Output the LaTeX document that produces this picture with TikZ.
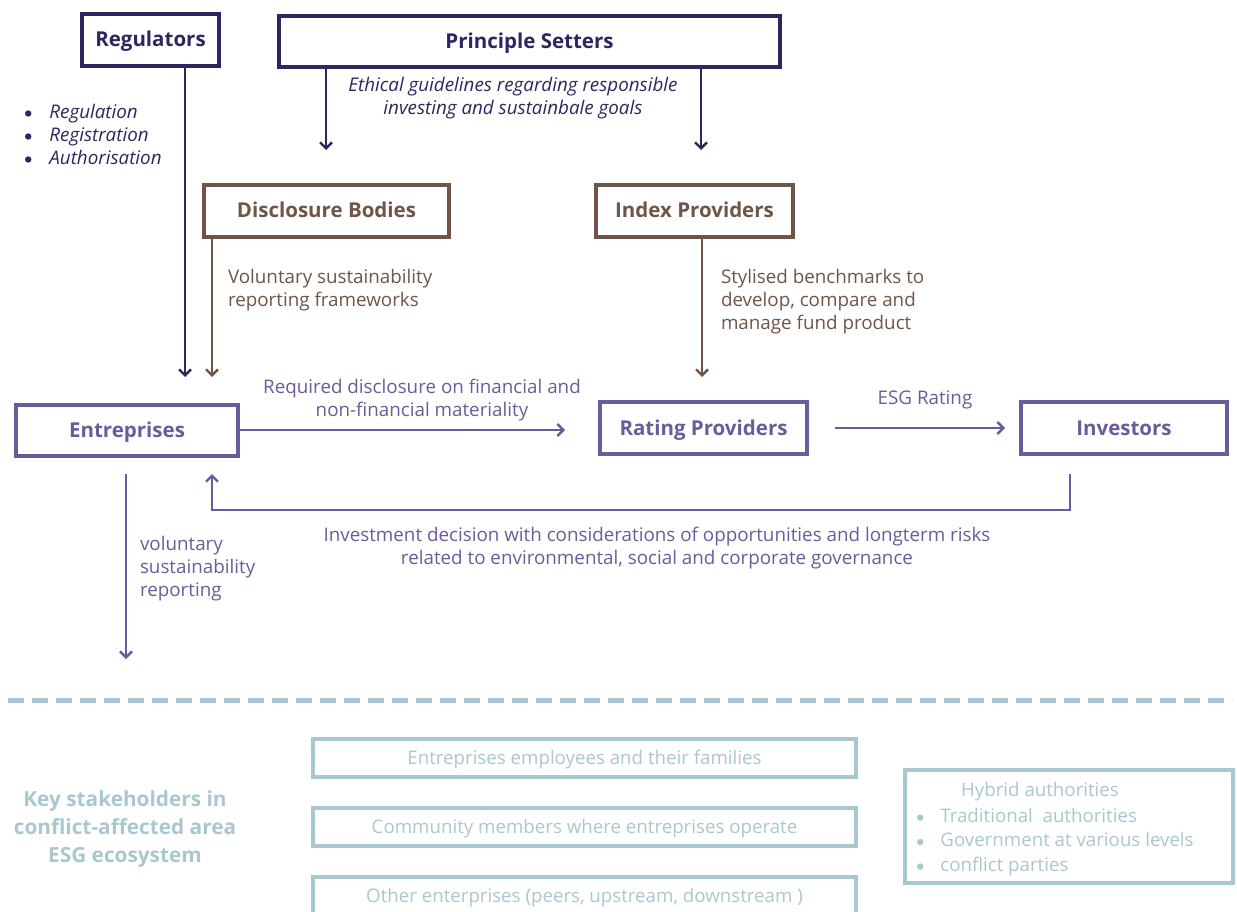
\documentclass[tikz,border=0pt]{standalone}
\usepackage{fontspec}
\setmainfont{Open Sans}
\usetikzlibrary{arrows.meta}
\definecolor{navy}{HTML}{2B2760}
\definecolor{umber}{HTML}{6E5547}
\definecolor{lilac}{HTML}{6A5B9C}
\definecolor{mist}{HTML}{A9C7D1}
\newcommand{\dotmark}{\tikz[baseline=-4.6pt]\fill (0,0) circle (3.2pt);}
\begin{document}
\begin{tikzpicture}[x=1pt,y=-1pt,
  every node/.style={inner sep=0pt, outer sep=0pt},
  lbl/.style={font=\fontsize{18.8}{23}\selectfont, align=left},
  head/.style={draw, line width=4pt, text height=14pt, text depth=0pt,
    font=\fontsize{20.5}{24}\selectfont\bfseries},
  soft/.style={draw=mist, line width=4pt, text=mist, text height=13pt, text depth=0pt,
    font=\fontsize{18.7}{22}\selectfont},
  link/.style={line width=2.4pt, -{Straight Barb[length=6pt,width=12pt,line width=2.4pt]}}]
\useasboundingbox (0,0) rectangle (1237,912);

% ---------- top level actors ----------
\node[head, navy, minimum width=137pt, minimum height=52pt] (reg) at (150.5,40) {Regulators};
\node[head, navy, minimum width=501pt, minimum height=51pt] (prin) at (529.5,41.5) {Principle Setters};

\node[lbl, navy, anchor=north west] (regtxt) at (25,102) {%
  \begin{tabular}{@{}l@{\hspace{18pt}}l@{}}
  \dotmark & \textit{Regulation}\\
  \dotmark & \textit{Registration}\\
  \dotmark & \textit{Authorisation}
  \end{tabular}};

\node[lbl, navy, align=center] (ethic) at (513,98) {\textit{Ethical guidelines regarding responsible}\\\textit{investing and sustainbale goals}};

\coordinate (prinL) at (326,150);
\coordinate (prinR) at (701,150);
\draw[link, navy] (prin.south -| prinL) -- (prinL);
\draw[link, navy] (prin.south -| prinR) -- (prinR);

% ---------- frameworks and benchmarks ----------
\node[head, umber, minimum width=245pt, minimum height=52pt] (disc) at (326.5,211) {Disclosure Bodies};
\node[head, umber, minimum width=197pt, minimum height=52pt] (idx) at (694.5,211) {Index Providers};

\node[lbl, umber, anchor=north west] (disctxt) at (228,269) {Voluntary sustainability\\reporting frameworks};
\node[lbl, umber, anchor=north west] (idxtxt) at (721,269) {Stylised benchmarks to\\develop, compare and\\manage fund product};

% ---------- market actors ----------
\node[head, lilac, minimum width=222pt, minimum height=51pt] (ent) at (127,430.5) {Entreprises};
\node[head, lilac, minimum width=207pt, minimum height=52pt] (rat) at (703.5,428) {Rating Providers};
\node[head, lilac, minimum width=206pt, minimum height=52pt] (inv) at (1124,428) {Investors};

\coordinate (regEnd) at (185,377);
\coordinate (discEnd) at (212,377);
\coordinate (idxEnd) at (702,377);
\draw[link, navy] (reg.south -| regEnd) -- (regEnd);
\draw[link, umber] (disc.south -| discEnd) -- (discEnd);
\draw[link, umber] (idx.south -| idxEnd) -- (idxEnd);

\coordinate (discl) at (565,430);
\draw[link, lilac] (ent.east |- discl) -- (discl);
\node[lbl, lilac, align=center] (discltxt) at (422,400) {Required disclosure on financial and\\non-financial materiality};

\coordinate (esgS) at (835,428);
\coordinate (esgE) at (1005,428);
\draw[link, lilac] (esgS) -- (esgE);
\node[lbl, lilac] (esgtxt) at (925,400) {ESG Rating};

\coordinate (invDown) at (1070,474);
\coordinate (loopR) at (1070,510);
\coordinate (loopL) at (212,510);
\coordinate (entUp) at (212,474);
\draw[link, lilac] (invDown) -- (loopR) -- (loopL) -- (entUp);
\node[lbl, lilac, align=center] (invtxt) at (657,548) {Investment decision with considerations of opportunities and longterm risks\\related to environmental, social and corporate governance};

\coordinate (volS) at (126,474);
\coordinate (volE) at (126,659);
\draw[link, lilac] (volS) -- (volE);
\node[lbl, lilac, anchor=north west] (voltxt) at (140,536) {voluntary\\sustainability\\reporting};

% ---------- conflict-affected area ----------
\coordinate (dashL) at (8,700);
\coordinate (dashR) at (1232,700);
\draw[mist, line width=5pt, dash pattern=on 16pt off 8pt] (dashL) -- (dashR);

\node[text=mist, font=\fontsize{20.8}{28}\selectfont\bfseries, align=center] (key) at (125,829) {Key stakeholders in\\conflict-affected area\\ESG ecosystem};

\node[soft, minimum width=543pt, minimum height=38pt] (emp) at (584.5,758) {Entreprises employees and their families};
\node[soft, minimum width=543pt, minimum height=38pt] (com) at (584.5,827) {Community members where entreprises operate};
\node[soft, minimum width=543pt, minimum height=38pt] (oth) at (584.5,896) {};
\node[text=mist, text height=13pt, text depth=0pt, font=\fontsize{18.7}{22}\selectfont] (othtxt) at (584.5,896) {Other enterprises (peers, upstream, downstream )};

\node[soft, minimum width=328pt, minimum height=113pt] (hyb) at (1069,826.5) {};
\node[text=mist, font=\fontsize{18.7}{22}\selectfont] (hybhead) at (1040,792) {Hybrid authorities};
\node[text=mist, font=\fontsize{18.7}{24.5}\selectfont, anchor=north west] (hyblist) at (917,805) {%
  \begin{tabular}{@{}l@{\hspace{17pt}}l@{}}
  \dotmark & Traditional\ \ authorities\\
  \dotmark & Government at various levels\\
  \dotmark & conflict parties
  \end{tabular}};
\end{tikzpicture}
\end{document}
